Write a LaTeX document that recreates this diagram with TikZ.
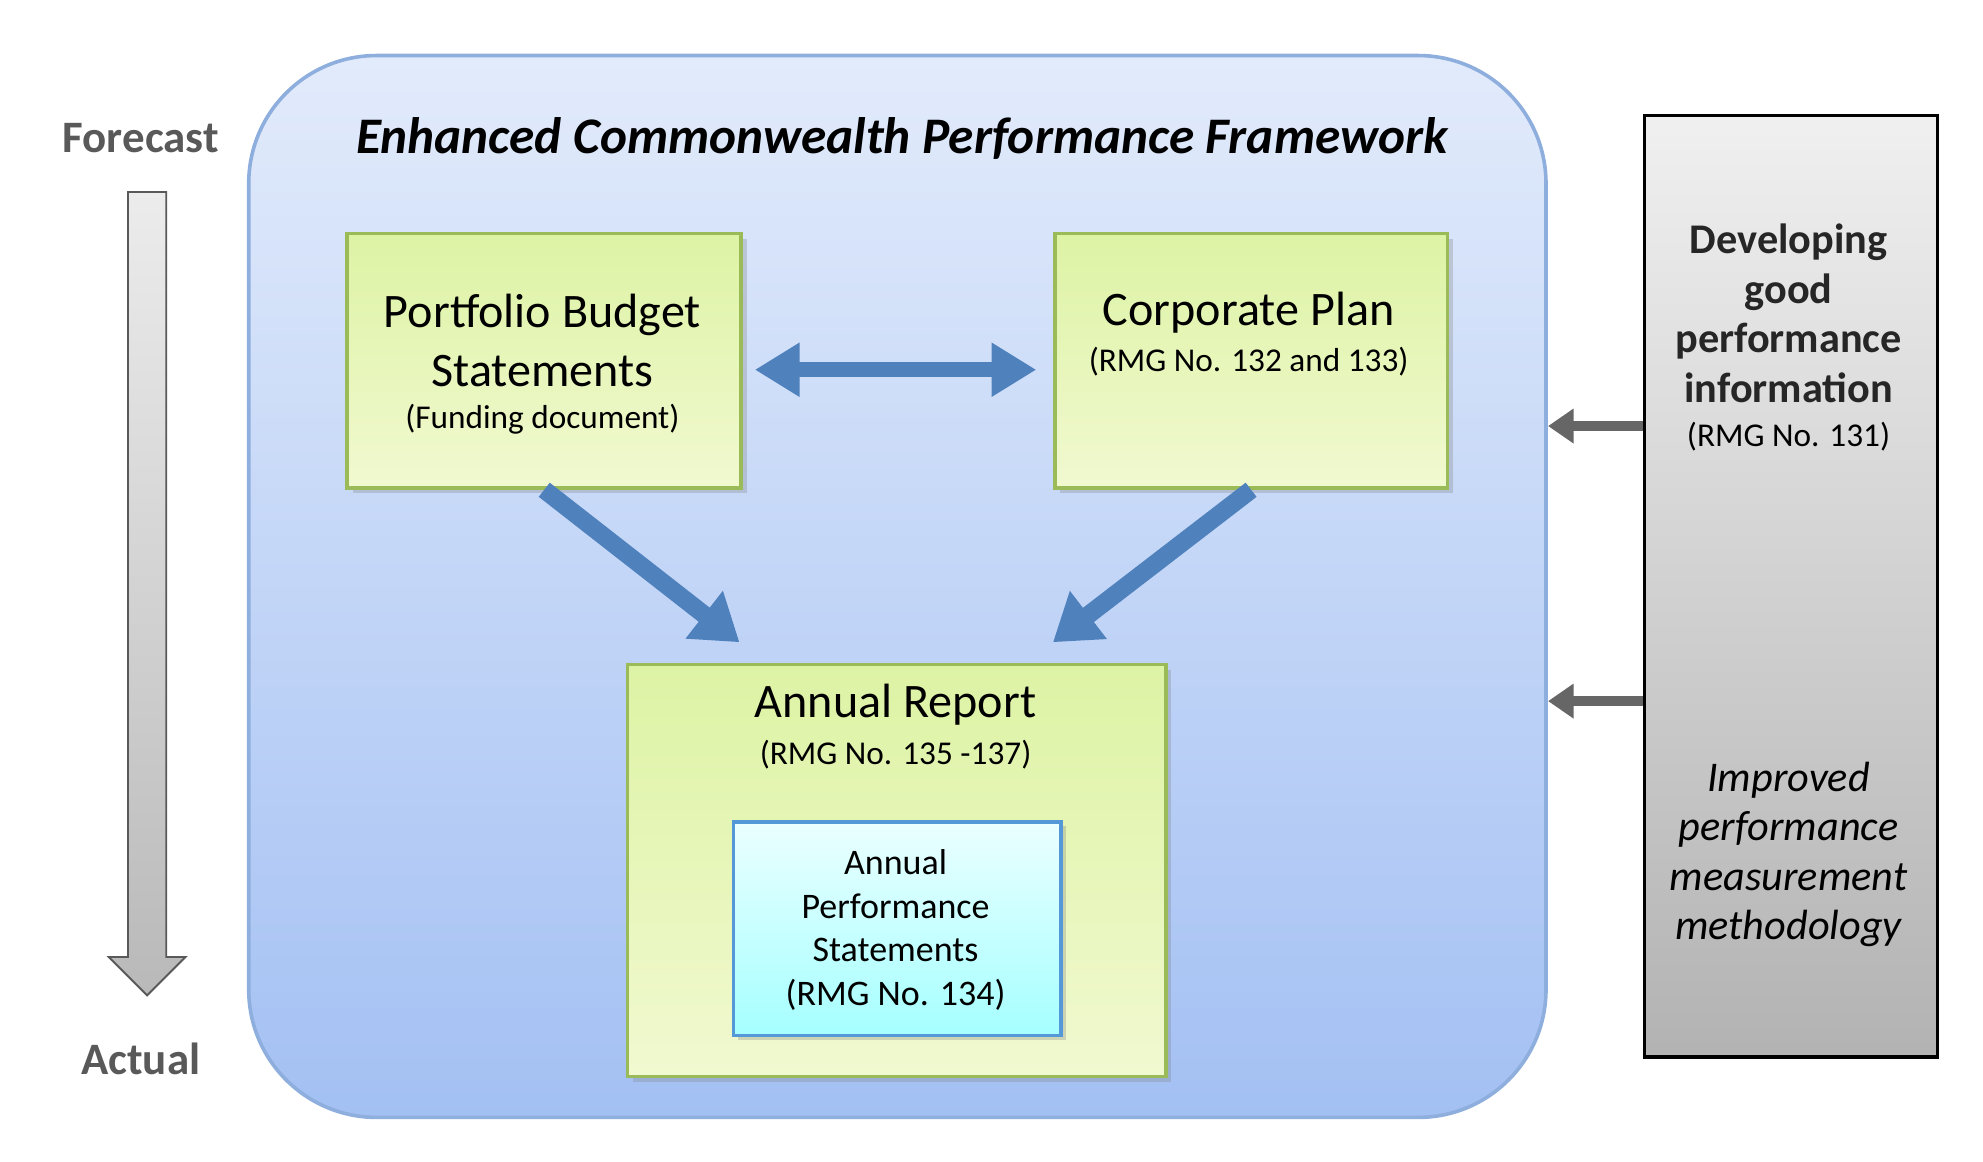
\documentclass[tikz,border=0pt]{standalone}
\usepackage{fontspec}
\setmainfont{Carlito}
\usetikzlibrary{arrows.meta,shadows}
\definecolor{frameblue}{HTML}{8EAEDD}
\definecolor{frametop}{HTML}{E2EBFB}
\definecolor{framebot}{HTML}{A3C0F3}
\definecolor{arrowblue}{HTML}{4F81BD}
\definecolor{boxgreen}{HTML}{9BBB59}
\definecolor{greentop}{HTML}{DDF3A4}
\definecolor{greenbot}{HTML}{F1F9D0}
\definecolor{labelgray}{HTML}{595959}
\tikzset{
  docbox/.style={draw=boxgreen,thick,top color=greentop,bottom color=greenbot,drop shadow={opacity=0.3,shadow xshift=1.2pt,shadow yshift=-1.2pt},anchor=north west,inner sep=0pt},
  flowarrow/.style={arrowblue,line width=1.4mm,-{Triangle[length=3.5mm,width=4.5mm]}},
  sidearrow/.style={gray!80!black,line width=0.8mm,-{Triangle[length=2mm,width=2.6mm]}}
}
\begin{document}
\begin{tikzpicture}[x=0.1mm,y=-0.1mm]
		\useasboundingbox (0,0) rectangle (1550,908);
		%framework
		\node[draw=frameblue,thick,rounded corners=10mm,top color=frametop,bottom color=framebot,minimum width=101.4mm,minimum height=83mm,anchor=north west,inner sep=0pt] (frame) at (193,42) {};
		\node[font=\bfseries\itshape\fontsize{11.4}{14}\selectfont] (title) at (705,108) {Enhanced Commonwealth Performance Framework};
		%planning documents
		\node[docbox,minimum width=30.8mm,minimum height=19.9mm] (pbs) at (270,181) {};
		\node[align=center,font=\fontsize{10.7}{13}\selectfont] (pbstext) at (424,266) {Portfolio Budget\\Statements};
		\node[font=\fontsize{7.4}{9}\selectfont] (pbsnote) at (424,328) {(Funding document)};
		\node[docbox,minimum width=30.7mm,minimum height=19.9mm] (cp) at (823,181) {};
		\node[font=\fontsize{10.7}{13}\selectfont] (cptext) at (976,244) {Corporate Plan};
		\node[font=\fontsize{7.4}{9}\selectfont] (cpnote) at (976,283) {(RMG No. 132 and 133)};
		%annual report
		\node[docbox,minimum width=42.1mm,minimum height=32.2mm] (ar) at (489,518) {};
		\node[font=\fontsize{10.7}{13}\selectfont] (artext) at (700,551) {Annual Report};
		\node[font=\fontsize{7.4}{9}\selectfont] (arnote) at (700,590) {(RMG No. 135 -137)};
		\node[draw=cyan!60!blue!70,thick,top color=cyan!8!white,bottom color=cyan!35!white,drop shadow={opacity=0.3,shadow xshift=1pt,shadow yshift=-1pt},minimum width=25.6mm,minimum height=16.7mm,anchor=north west,inner sep=0pt] (aps) at (572,641) {};
		\node[align=center,font=\fontsize{8}{9.7}\selectfont] (apstext) at (700,727) {Annual\\Performance\\Statements\\(RMG No. 134)};
		%links
		\draw[arrowblue,line width=1.2mm,{Triangle[length=3.5mm,width=4mm]}-{Triangle[length=3.5mm,width=4mm]}] (590,289) coordinate (l) -- (810,289) coordinate (r);
		\draw[flowarrow] (pbs.south) -- (578,502) coordinate (pin);
		\draw[flowarrow] (cp.south) -- (823,502) coordinate (cin);
		%forecast / actual
		\node[text=labelgray,font=\bfseries\fontsize{10}{12}\selectfont] (forecast) at (110,108) {Forecast};
		\node[text=labelgray,font=\bfseries\fontsize{10}{12}\selectfont] (actual) at (110,828) {Actual};
		\draw[gray!70!black,left color=gray!15!white,right color=gray!55!white,shading angle=0] (100,150) -- (130,150) -- (130,748) -- (145,748) -- (115,778) -- (85,748) -- (100,748) -- cycle;
		%guidance
		\node[draw=black,thick,top color=gray!12!white,bottom color=gray!60!white,minimum width=22.9mm,minimum height=73.6mm,anchor=north west,inner sep=0pt] (guide) at (1284,89) {};
		\node[align=center,font=\bfseries\fontsize{9.4}{11}\selectfont,text=black!85] (guidetop) at (1398,245) {Developing\\good\\performance\\information};
		\node[font=\fontsize{7.4}{9}\selectfont] (guidenote) at (1398,341) {(RMG No. 131)};
		\node[align=center,font=\itshape\fontsize{9.4}{11}\selectfont] (guidelow) at (1398,668) {Improved\\performance\\measurement\\methodology};
		\draw[sidearrow] (1284,333) -- (1210,333) coordinate (s1);
		\draw[sidearrow] (1284,548) -- (1210,548) coordinate (s2);
\end{tikzpicture}
\end{document}
